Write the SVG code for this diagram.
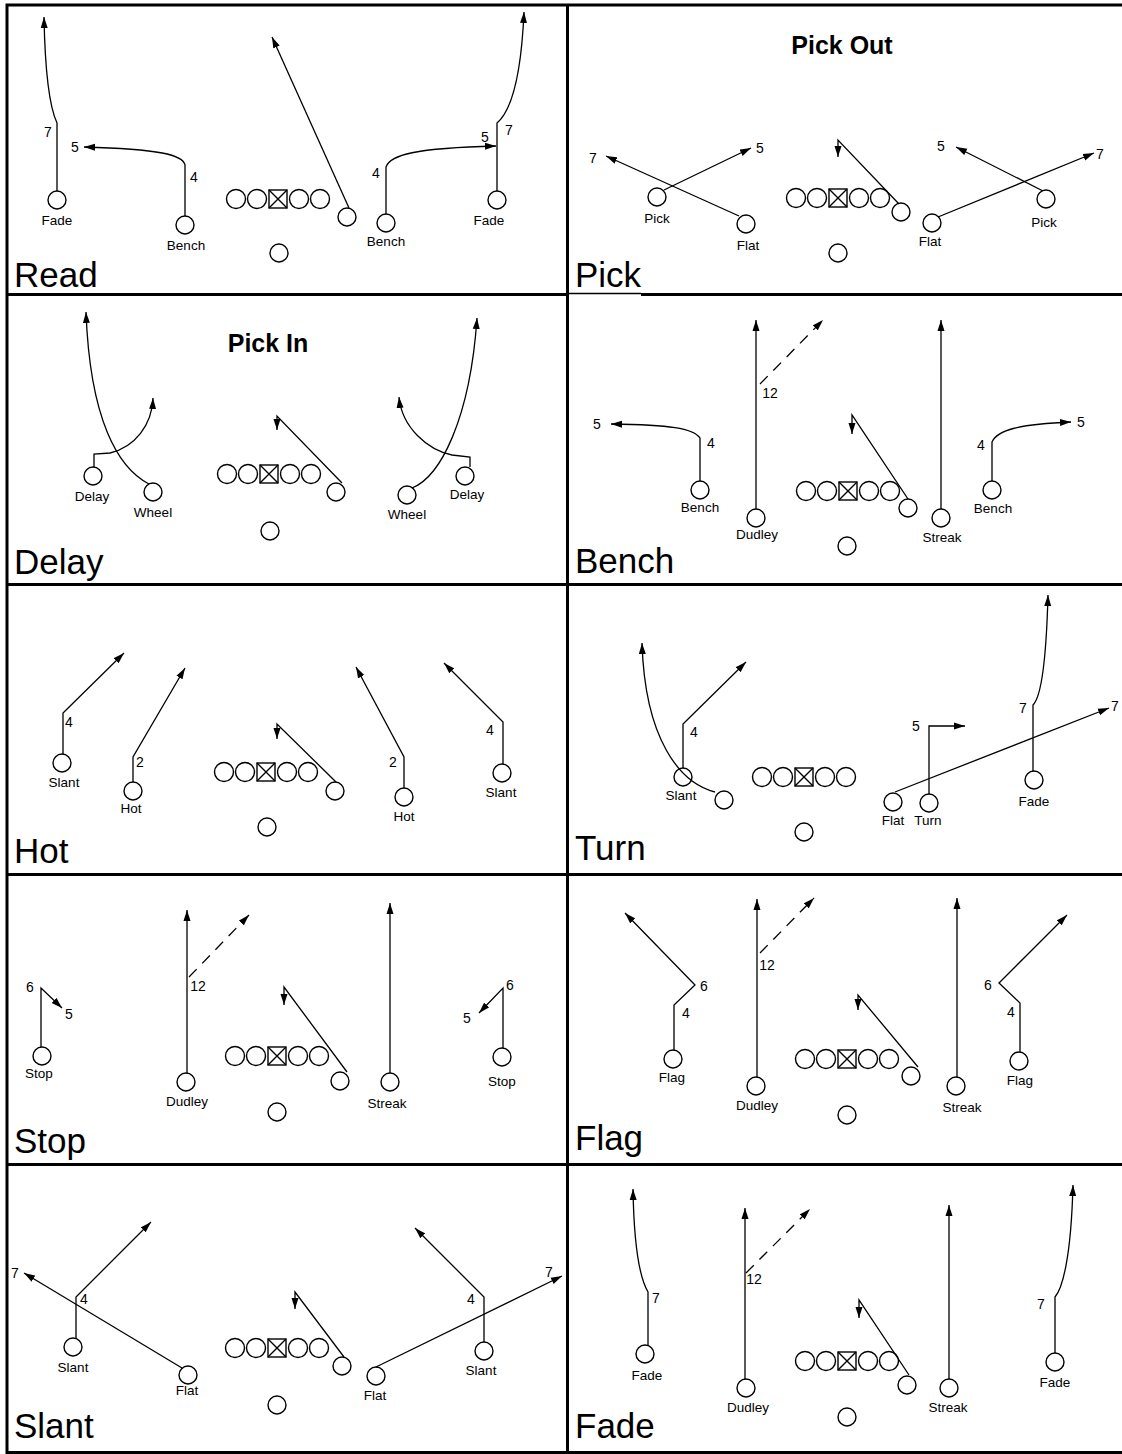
<svg xmlns="http://www.w3.org/2000/svg" xmlns:xlink="http://www.w3.org/1999/xlink" width="1122" height="1454" viewBox="0 0 1122 1454">
<style>
.bd{stroke:#000;stroke-width:3;fill:none}
.pl{fill:#fff;stroke:#000;stroke-width:1.4}
.r{fill:none;stroke:#000;stroke-width:1.3}
.a{marker-end:url(#ah)}
.d{stroke-dasharray:11 8}
text{font-family:"Liberation Sans",Arial,sans-serif;fill:#000}
.t{font-size:35px}
.h{font-size:25px;font-weight:bold;text-anchor:middle}
.l{font-size:13.5px;text-anchor:middle}
.n{font-size:14px;text-anchor:middle}
</style>
<defs>
<marker id="ah" markerUnits="userSpaceOnUse" markerWidth="12" markerHeight="8" refX="11" refY="4" orient="auto"><path d="M0,0.5 L11,4 L0,7.5 z" fill="#000"/></marker>
<g id="ol" class="pl"><circle cx="-42" r="9.5"/><circle cx="-21" r="9.5"/><rect x="-9" y="-9" width="18" height="18"/><path d="M-9,-9 L9,9 M9,-9 L-9,9" fill="none"/><circle cx="21" r="9.5"/><circle cx="42" r="9.5"/></g>
</defs>
<rect width="1122" height="1454" fill="#fff"/>
<g id="grid">
<path class="bd" d="M7,3.5 V1454 M5.5,5 H1122 M567.5,3.5 V1454 M5.5,294.5 H568 M641,294.5 H1122 M5.5,584.5 H1122 M5.5,874.5 H1122 M5.5,1164.5 H1122 M5.5,1452.5 H1122"/>
<path d="M568,293.5 H641" stroke="#000" stroke-width="1.5"/>
</g>

<!-- Panel 1 Read -->
<g id="read">
<text class="t" x="14" y="287">Read</text>
<g id="read-fade-l"><circle class="pl" cx="57" cy="200" r="9"/><text class="l" x="57" y="225">Fade</text></g>
<g id="read-bench-l"><circle class="pl" cx="185" cy="225" r="9"/><text class="l" x="186" y="250">Bench</text></g>
<g id="read-line"><use xlink:href="#ol" x="278" y="199"/></g>
<g id="read-back"><circle class="pl" cx="347" cy="217" r="9"/></g>
<g id="read-qb"><circle class="pl" cx="279" cy="253" r="9"/></g>
<g id="read-bench-r"><circle class="pl" cx="386" cy="223" r="9"/><text class="l" x="386" y="246">Bench</text></g>
<g id="read-fade-r"><circle class="pl" cx="497" cy="200" r="9"/><text class="l" x="489" y="225">Fade</text></g>
<g id="read-routes">
<path class="r a" d="M57,191 L57,123 C50,108 45,70 44,17"/>
<path class="r a" d="M185,216 L185,165 C183,155 160,149 84,147"/>
<path class="r a" d="M386,214 L386,167 C390,155 415,148 496,146"/>
<path class="r a" d="M497,191 L497,123 C510,112 521,80 524,12"/>
<path class="r a" d="M349,208 L272,37"/>
<text class="n" x="48" y="137">7</text><text class="n" x="75" y="152">5</text><text class="n" x="194" y="182">4</text>
<text class="n" x="376" y="178">4</text><text class="n" x="485" y="142">5</text><text class="n" x="509" y="135">7</text>
</g>
</g>

<!-- Panel 2 Pick -->
<g id="pick">
<text class="t" x="575" y="287">Pick</text>
<text class="h" x="842" y="54">Pick Out</text>
<g id="pick-pick-l"><circle class="pl" cx="657" cy="197" r="9"/><text class="l" x="657" y="223">Pick</text></g>
<g id="pick-flat-l"><circle class="pl" cx="746" cy="224" r="9"/><text class="l" x="748" y="250">Flat</text></g>
<g id="pick-line"><use xlink:href="#ol" x="838" y="198"/></g>
<g id="pick-back"><circle class="pl" cx="901" cy="212" r="9"/></g>
<g id="pick-qb"><circle class="pl" cx="838" cy="253" r="9"/></g>
<g id="pick-flat-r"><circle class="pl" cx="932" cy="223" r="9"/><text class="l" x="930" y="246">Flat</text></g>
<g id="pick-pick-r"><circle class="pl" cx="1046" cy="199" r="9"/><text class="l" x="1044" y="227">Pick</text></g>
<g id="pick-routes">
<path class="r a" d="M664,190 L751,148"/>
<path class="r a" d="M739,216 L606,156"/>
<path class="r a" d="M899,204 L838,140 L838,157"/>
<path class="r a" d="M938,217 L1094,153"/>
<path class="r a" d="M1043,191 L956,147"/>
<text class="n" x="760" y="153">5</text><text class="n" x="593" y="163">7</text>
<text class="n" x="1100" y="159">7</text><text class="n" x="941" y="151">5</text>
</g>
</g>

<!-- Panel 3 Delay -->
<g id="delay">
<text class="t" x="14" y="574">Delay</text>
<text class="h" x="268" y="352">Pick In</text>
<g id="delay-delay-l"><circle class="pl" cx="93" cy="476" r="9"/><text class="l" x="92" y="501">Delay</text></g>
<g id="delay-wheel-l"><circle class="pl" cx="153" cy="492" r="9"/><text class="l" x="153" y="517">Wheel</text></g>
<g id="delay-line"><use xlink:href="#ol" x="269" y="474"/></g>
<g id="delay-back"><circle class="pl" cx="336" cy="492" r="9"/></g>
<g id="delay-qb"><circle class="pl" cx="270" cy="531" r="9"/></g>
<g id="delay-wheel-r"><circle class="pl" cx="407" cy="495" r="9"/><text class="l" x="407" y="519">Wheel</text></g>
<g id="delay-delay-r"><circle class="pl" cx="465" cy="476" r="9"/><text class="l" x="467" y="499">Delay</text></g>
<g id="delay-routes">
<path class="r a" d="M149,484 C118,468 90,420 86,312"/>
<path class="r a" d="M94,467 L94,454 L110,453 C135,447 152,425 153,398"/>
<path class="r a" d="M342,483 L277,416 L277,430"/>
<path class="r a" d="M412,488 C440,477 470,420 477,318"/>
<path class="r a" d="M470,467 L470,457 L452,455 C428,450 402,428 399,397"/>
</g>
</g>

<!-- Panel 4 Bench -->
<g id="bench">
<text class="t" x="575" y="573">Bench</text>
<g id="bench-bench-l"><circle class="pl" cx="700" cy="490" r="9"/><text class="l" x="700" y="512">Bench</text></g>
<g id="bench-dudley"><circle class="pl" cx="756" cy="518" r="9"/><text class="l" x="757" y="539">Dudley</text></g>
<g id="bench-line"><use xlink:href="#ol" x="848" y="491"/></g>
<g id="bench-back"><circle class="pl" cx="908" cy="508" r="9"/></g>
<g id="bench-qb"><circle class="pl" cx="847" cy="546" r="9"/></g>
<g id="bench-streak"><circle class="pl" cx="941" cy="518" r="9"/><text class="l" x="942" y="542">Streak</text></g>
<g id="bench-bench-r"><circle class="pl" cx="992" cy="490" r="9"/><text class="l" x="993" y="513">Bench</text></g>
<g id="bench-routes">
<path class="r a" d="M700,481 L700,438 C693,428 670,425 611,424"/>
<path class="r a" d="M756,509 L756,320"/>
<path class="r a d" d="M760,384 L823,320"/>
<path class="r a" d="M908,499 L852,415 L852,434"/>
<path class="r a" d="M941,509 L941,320"/>
<path class="r a" d="M992,481 L992,442 C997,430 1020,424 1071,422"/>
<text class="n" x="711" y="448">4</text><text class="n" x="597" y="429">5</text><text class="n" x="770" y="398">12</text>
<text class="n" x="981" y="450">4</text><text class="n" x="1081" y="427">5</text>
</g>
</g>

<!-- Panel 5 Hot -->
<g id="hot">
<text class="t" x="14" y="863">Hot</text>
<g id="hot-slant-l"><circle class="pl" cx="62" cy="763" r="9"/><text class="l" x="64" y="787">Slant</text></g>
<g id="hot-hot-l"><circle class="pl" cx="133" cy="791" r="9"/><text class="l" x="131" y="813">Hot</text></g>
<g id="hot-line"><use xlink:href="#ol" x="266" y="772"/></g>
<g id="hot-back"><circle class="pl" cx="335" cy="791" r="9"/></g>
<g id="hot-qb"><circle class="pl" cx="267" cy="827" r="9"/></g>
<g id="hot-hot-r"><circle class="pl" cx="404" cy="797" r="9"/><text class="l" x="404" y="821">Hot</text></g>
<g id="hot-slant-r"><circle class="pl" cx="502" cy="773" r="9"/><text class="l" x="501" y="797">Slant</text></g>
<g id="hot-routes">
<path class="r a" d="M63,754 L63,713 L124,653"/>
<path class="r a" d="M133,782 L133,757 L185,668"/>
<path class="r a" d="M336,782 L277,724 L277,739"/>
<path class="r a" d="M404,788 L404,757 L356,667"/>
<path class="r a" d="M503,764 L503,722 L444,663"/>
<text class="n" x="69" y="727">4</text><text class="n" x="140" y="767">2</text>
<text class="n" x="393" y="767">2</text><text class="n" x="490" y="735">4</text>
</g>
</g>

<!-- Panel 6 Turn -->
<g id="turn">
<text class="t" x="575" y="860">Turn</text>
<g id="turn-slant"><circle class="pl" cx="683" cy="777" r="9"/><text class="l" x="681" y="800">Slant</text></g>
<g id="turn-wheel"><circle class="pl" cx="724" cy="800" r="9"/></g>
<g id="turn-line"><use xlink:href="#ol" x="804" y="777"/></g>
<g id="turn-qb"><circle class="pl" cx="804" cy="832" r="9"/></g>
<g id="turn-flat"><circle class="pl" cx="893" cy="802" r="9"/><text class="l" x="893" y="825">Flat</text></g>
<g id="turn-turn"><circle class="pl" cx="929" cy="803" r="9"/><text class="l" x="928" y="825">Turn</text></g>
<g id="turn-fade"><circle class="pl" cx="1034" cy="780" r="9"/><text class="l" x="1034" y="806">Fade</text></g>
<g id="turn-routes">
<path class="r a" d="M683,768 L683,724 L746,662"/>
<path class="r a" d="M715,792 C680,783 645,740 642,643"/>
<path class="r a" d="M895,792 L1109,708"/>
<path class="r a" d="M929,794 L929,726 L965,726"/>
<path class="r a" d="M1033,771 L1033,705 C1040,698 1046,670 1048,595"/>
<text class="n" x="694" y="737">4</text><text class="n" x="1115" y="711">7</text>
<text class="n" x="916" y="731">5</text><text class="n" x="1023" y="713">7</text>
</g>
</g>

<!-- Panel 7 Stop -->
<g id="stop">
<text class="t" x="14" y="1153">Stop</text>
<g id="stop-stop-l"><circle class="pl" cx="42" cy="1056" r="9"/><text class="l" x="39" y="1078">Stop</text></g>
<g id="stop-dudley"><circle class="pl" cx="186" cy="1082" r="9"/><text class="l" x="187" y="1106">Dudley</text></g>
<g id="stop-line"><use xlink:href="#ol" x="277" y="1056"/></g>
<g id="stop-back"><circle class="pl" cx="340" cy="1081" r="9"/></g>
<g id="stop-qb"><circle class="pl" cx="277" cy="1112" r="9"/></g>
<g id="stop-streak"><circle class="pl" cx="390" cy="1082" r="9"/><text class="l" x="387" y="1108">Streak</text></g>
<g id="stop-stop-r"><circle class="pl" cx="502" cy="1057" r="9"/><text class="l" x="502" y="1086">Stop</text></g>
<g id="stop-routes">
<path class="r a" d="M41,1047 L41,988 L62,1008"/>
<path class="r a" d="M187,1073 L187,910"/>
<path class="r a d" d="M189,977 L249,915"/>
<path class="r a" d="M347,1072 L284,987 L284,1005"/>
<path class="r a" d="M390,1073 L390,903"/>
<path class="r a" d="M503,1048 L503,988 L479,1013"/>
<text class="n" x="30" y="992">6</text><text class="n" x="69" y="1019">5</text><text class="n" x="198" y="991">12</text>
<text class="n" x="510" y="990">6</text><text class="n" x="467" y="1023">5</text>
</g>
</g>

<!-- Panel 8 Flag -->
<g id="flag">
<text class="t" x="575" y="1150">Flag</text>
<g id="flag-flag-l"><circle class="pl" cx="673" cy="1059" r="9"/><text class="l" x="672" y="1082">Flag</text></g>
<g id="flag-dudley"><circle class="pl" cx="756" cy="1086" r="9"/><text class="l" x="757" y="1110">Dudley</text></g>
<g id="flag-line"><use xlink:href="#ol" x="847" y="1059"/></g>
<g id="flag-back"><circle class="pl" cx="911" cy="1076" r="9"/></g>
<g id="flag-qb"><circle class="pl" cx="847" cy="1115" r="9"/></g>
<g id="flag-streak"><circle class="pl" cx="956" cy="1086" r="9"/><text class="l" x="962" y="1112">Streak</text></g>
<g id="flag-flag-r"><circle class="pl" cx="1019" cy="1061" r="9"/><text class="l" x="1020" y="1085">Flag</text></g>
<g id="flag-routes">
<path class="r a" d="M674,1050 L674,1005 L695,985 L625,913"/>
<path class="r a" d="M757,1077 L757,899"/>
<path class="r a d" d="M760,953 L814,898"/>
<path class="r a" d="M918,1067 L858,995 L858,1010"/>
<path class="r a" d="M957,1077 L957,898"/>
<path class="r a" d="M1020,1052 L1020,1003 L999,983 L1067,915"/>
<text class="n" x="686" y="1018">4</text><text class="n" x="704" y="991">6</text><text class="n" x="767" y="970">12</text>
<text class="n" x="1011" y="1017">4</text><text class="n" x="988" y="990">6</text>
</g>
</g>

<!-- Panel 9 Slant -->
<g id="slant">
<text class="t" x="14" y="1438">Slant</text>
<g id="slant-slant-l"><circle class="pl" cx="73" cy="1347" r="9"/><text class="l" x="73" y="1372">Slant</text></g>
<g id="slant-flat-l"><circle class="pl" cx="188" cy="1375" r="9"/><text class="l" x="187" y="1395">Flat</text></g>
<g id="slant-line"><use xlink:href="#ol" x="277" y="1348"/></g>
<g id="slant-back"><circle class="pl" cx="342" cy="1366" r="9"/></g>
<g id="slant-qb"><circle class="pl" cx="277" cy="1405" r="9"/></g>
<g id="slant-flat-r"><circle class="pl" cx="376" cy="1376" r="9"/><text class="l" x="375" y="1400">Flat</text></g>
<g id="slant-slant-r"><circle class="pl" cx="484" cy="1351" r="9"/><text class="l" x="481" y="1375">Slant</text></g>
<g id="slant-routes">
<path class="r a" d="M76,1338 L76,1297 L151,1222"/>
<path class="r a" d="M182,1368 L24,1273"/>
<path class="r a" d="M344,1357 L295,1292 L295,1309"/>
<path class="r a" d="M376,1367 L562,1276"/>
<path class="r a" d="M484,1342 L484,1297 L415,1228"/>
<text class="n" x="84" y="1304">4</text><text class="n" x="15" y="1278">7</text>
<text class="n" x="549" y="1277">7</text><text class="n" x="471" y="1304">4</text>
</g>
</g>

<!-- Panel 10 Fade -->
<g id="fade">
<text class="t" x="575" y="1438">Fade</text>
<g id="fade-fade-l"><circle class="pl" cx="645" cy="1354" r="9"/><text class="l" x="647" y="1380">Fade</text></g>
<g id="fade-dudley"><circle class="pl" cx="746" cy="1388" r="9"/><text class="l" x="748" y="1412">Dudley</text></g>
<g id="fade-line"><use xlink:href="#ol" x="847" y="1361"/></g>
<g id="fade-back"><circle class="pl" cx="907" cy="1385" r="9"/></g>
<g id="fade-qb"><circle class="pl" cx="847" cy="1417" r="9"/></g>
<g id="fade-streak"><circle class="pl" cx="949" cy="1388" r="9"/><text class="l" x="948" y="1412">Streak</text></g>
<g id="fade-fade-r"><circle class="pl" cx="1055" cy="1362" r="9"/><text class="l" x="1055" y="1387">Fade</text></g>
<g id="fade-routes">
<path class="r a" d="M648,1345 L648,1292 C641,1280 634,1250 633,1189"/>
<path class="r a" d="M745,1379 L745,1208"/>
<path class="r a d" d="M746,1273 L810,1209"/>
<path class="r a" d="M909,1375 L859,1300 L859,1318"/>
<path class="r a" d="M949,1379 L949,1205"/>
<path class="r a" d="M1055,1353 L1055,1297 C1062,1289 1071,1260 1073,1185"/>
<text class="n" x="656" y="1303">7</text><text class="n" x="754" y="1284">12</text><text class="n" x="1041" y="1309">7</text>
</g>
</g>
</svg>
